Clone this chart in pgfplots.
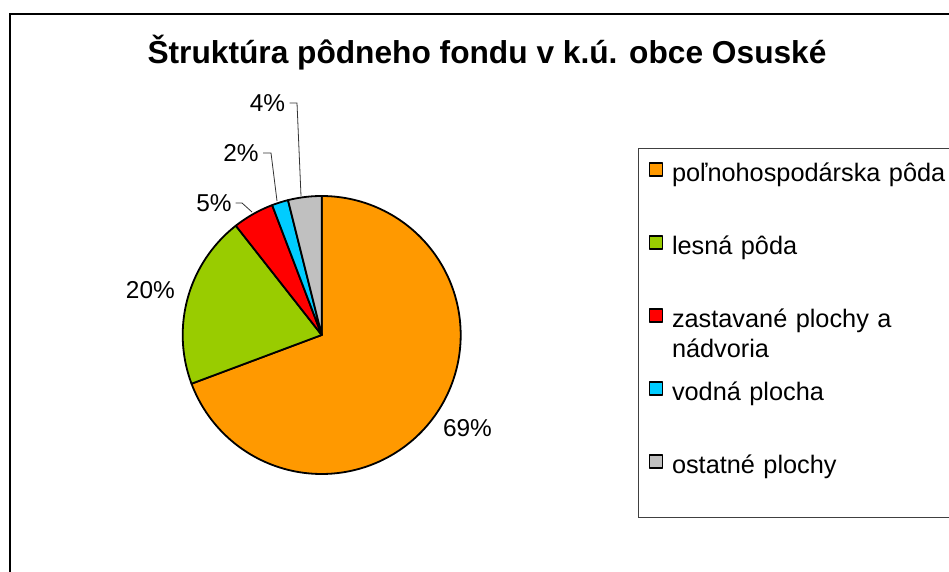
\documentclass[border=0pt]{standalone}
\usepackage{pgfplots}
\usepackage{pgfplotstable}
\pgfplotsset{compat=1.18}
\usepackage{fontspec}
\setmainfont{Liberation Sans}
\definecolor{cOrange}{RGB}{255,153,0}
\definecolor{cGreen}{RGB}{153,204,0}
\definecolor{cRed}{RGB}{255,0,0}
\definecolor{cBlue}{RGB}{0,204,255}
\definecolor{cGrey}{RGB}{192,192,192}

% shares of the land fund (percent), in the order drawn clockwise from 12 o'clock
\pgfplotstableread{
share
69.3
20.1
4.8
1.9
3.9
}\landdata

\pgfplotstablegetelem{0}{share}\of\landdata \let\vA\pgfplotsretval
\pgfplotstablegetelem{1}{share}\of\landdata \let\vB\pgfplotsretval
\pgfplotstablegetelem{2}{share}\of\landdata \let\vC\pgfplotsretval
\pgfplotstablegetelem{3}{share}\of\landdata \let\vD\pgfplotsretval
\pgfplotstablegetelem{4}{share}\of\landdata \let\vE\pgfplotsretval
\pgfmathsetmacro\aZ{90}
\pgfmathsetmacro\aA{\aZ-3.6*\vA}
\pgfmathsetmacro\aB{\aA-3.6*\vB}
\pgfmathsetmacro\aC{\aB-3.6*\vC}
\pgfmathsetmacro\aD{\aC-3.6*\vD}
\pgfmathsetmacro\aE{\aD-3.6*\vE}
\def\cx{321.7}
\def\cy{237}
\def\R{139}

\begin{document}
\begin{tikzpicture}
\begin{axis}[
  at={(0,0)}, anchor=south west,
  width=949bp, height=572bp, scale only axis,
  xmin=0, xmax=949, ymin=0, ymax=572,
  hide axis, clip=false,
  legend image code/.code={\draw[#1, line width=1.5bp] (0bp,-0.5bp) rectangle (13bp,12.5bp);},
  legend style={
    at={(axis cs:648.5,410.3)}, anchor=north west,
    draw=none, fill=none, inner sep=0pt, outer sep=0pt,
    row sep=45bp, column sep=9bp,
    font=\fontsize{25.4}{30}\selectfont,
    cells={anchor=base west},
    nodes={inner sep=0pt, outer sep=0pt, text height=20bp, text depth=8bp, text width=290bp, align=left},
  },
  legend cell align=left,
]
% chart area border
\draw[line width=2bp] (axis cs:10,-5) -- (axis cs:10,558) -- (axis cs:960,558);
% legend box
\draw[line width=1bp, black!75] (axis cs:960,423) -- (axis cs:638,423) -- (axis cs:638,54) -- (axis cs:960,54);

\addplot[fill=cOrange, draw=black, line width=1.8bp, line join=round, domain=\aA:\aZ, samples=150, variable=\t]
  ({\cx+\R*cos(t)}, {\cy+\R*sin(t)}) -- (axis cs:\cx,\cy) -- cycle;
\addlegendentry{poľnohospodárska pôda}
\addplot[fill=cGreen, draw=black, line width=1.8bp, line join=round, domain=\aB:\aA, samples=60, variable=\t]
  ({\cx+\R*cos(t)}, {\cy+\R*sin(t)}) -- (axis cs:\cx,\cy) -- cycle;
\addlegendentry{lesná pôda}
\addplot[fill=cRed, draw=black, line width=1.8bp, line join=round, domain=\aC:\aB, samples=20, variable=\t]
  ({\cx+\R*cos(t)}, {\cy+\R*sin(t)}) -- (axis cs:\cx,\cy) -- cycle;
\addlegendentry{zastavané plochy a\\nádvoria}
\addplot[fill=cBlue, draw=black, line width=1.8bp, line join=round, domain=\aD:\aC, samples=10, variable=\t]
  ({\cx+\R*cos(t)}, {\cy+\R*sin(t)}) -- (axis cs:\cx,\cy) -- cycle;
\addlegendentry{vodná plocha}
\addplot[fill=cGrey, draw=black, line width=1.8bp, line join=round, domain=\aE:\aD, samples=20, variable=\t]
  ({\cx+\R*cos(t)}, {\cy+\R*sin(t)}) -- (axis cs:\cx,\cy) -- cycle;
\addlegendentry{ostatné plochy}

% title
\node[anchor=base, font=\fontsize{31.8}{36}\selectfont\bfseries] at (axis cs:487,508.7)
  {Štruktúra pôdneho fondu v k.ú. obce Osuské};

% data labels
\node[anchor=base, font=\fontsize{24.5}{28}\selectfont] at (axis cs:150.4,273.7) {20\%};
\node[anchor=base, font=\fontsize{24.5}{28}\selectfont] at (axis cs:467.5,135.3) {69\%};
\node[anchor=base, font=\fontsize{24.5}{28}\selectfont] at (axis cs:214,360.3) {5\%};
\node[anchor=base, font=\fontsize{24.5}{28}\selectfont] at (axis cs:241,410.3) {2\%};
\node[anchor=base, font=\fontsize{24.5}{28}\selectfont] at (axis cs:267.5,460.3) {4\%};

% leader lines
\draw[line width=0.8bp, black!80] (axis cs:289.5,469) -- (axis cs:297,469) -- (axis cs:301,376);
\draw[line width=0.8bp, black!80] (axis cs:263,419) -- (axis cs:271,419) -- (axis cs:277,371);
\draw[line width=0.8bp, black!80] (axis cs:235.5,369) -- (axis cs:242,369) -- (axis cs:252,360);
\end{axis}
\pgfresetboundingbox
\path[use as bounding box] (0,0) rectangle (949bp,572bp);
\end{tikzpicture}
\end{document}
